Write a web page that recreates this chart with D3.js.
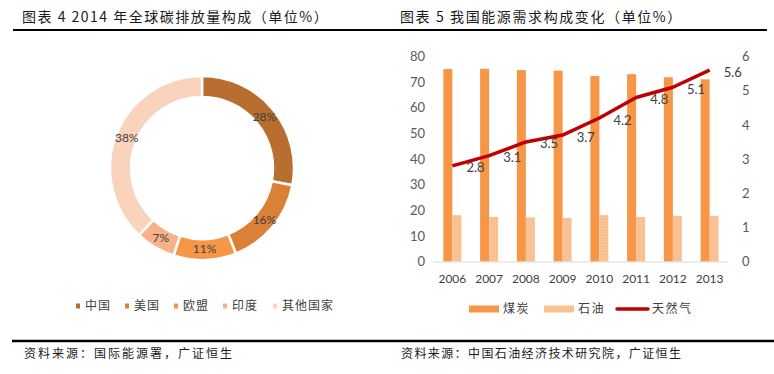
<!DOCTYPE html>
<html>
<head>
<meta charset="utf-8">
<script src="https://cdn.jsdelivr.net/npm/d3@7"></script>
<style>
  body { margin: 0; background: #fff; }
  svg { display: block; }
  .cjk { font-family: "Noto Sans CJK SC", sans-serif; }
  .num { font-family: Lato, "Liberation Sans", sans-serif; }
</style>
</head>
<body>
<svg id="chart" width="774" height="374"></svg>
<script>
// left: 2014 global carbon emission share
var regions = ['中国', '美国', '欧盟', '印度', '其他国家'];
var regionShares = [28, 16, 11, 7, 38];
var regionColors = ['#B86E2F', '#DA8137', '#F79646', '#F9B18A', '#FAD3BD'];

// right: China energy demand structure
var years = ['2006', '2007', '2008', '2009', '2010', '2011', '2012', '2013'];
var coal = [75.1, 75.2, 74.7, 74.5, 72.4, 73.1, 71.9, 71.1];
var oil = [18.1, 17.4, 17.2, 17.0, 18.1, 17.4, 17.8, 17.8];
var gas = [2.8, 3.1, 3.5, 3.7, 4.2, 4.8, 5.1, 5.6];
var leftTicks = [0, 10, 20, 30, 40, 50, 60, 70, 80];
var rightTicks = [0, 1, 2, 3, 4, 5, 6];
var energyNames = ['煤炭', '石油', '天然气'];

var svg = d3.select("#chart");

// pattern for oil bars
var defs = svg.append("defs");
var pat = defs.append("pattern").attr("id", "oilPat")
    .attr("width", 2).attr("height", 2).attr("patternUnits", "userSpaceOnUse");
pat.append("rect").attr("width", 2).attr("height", 2).attr("fill", "#FAC497");
pat.append("rect").attr("width", 1).attr("height", 1).attr("fill", "#F7B988");

// titles + rules
svg.append("text").attr("class", "cjk").attr("x", 22).attr("y", 22)
    .attr("font-size", 14).attr("letter-spacing", 1.5).attr("fill", "#1a1a1a")
    .text("图表 4 2014 年全球碳排放量构成（单位%）");
svg.append("text").attr("class", "cjk").attr("x", 400).attr("y", 22)
    .attr("font-size", 14).attr("letter-spacing", 1.6).attr("fill", "#1a1a1a")
    .text("图表 5  我国能源需求构成变化（单位%）");
svg.append("line").attr("x1", 13).attr("x2", 767).attr("y1", 30).attr("y2", 30)
    .attr("stroke", "#000").attr("stroke-width", 2);
svg.append("line").attr("x1", 12).attr("x2", 774).attr("y1", 341).attr("y2", 341)
    .attr("stroke", "#000").attr("stroke-width", 2.5);
svg.append("text").attr("class", "cjk").attr("x", 24).attr("y", 358)
    .attr("font-size", 12).attr("letter-spacing", 2).attr("fill", "#1a1a1a")
    .text("资料来源：国际能源署，广证恒生");
svg.append("text").attr("class", "cjk").attr("x", 401).attr("y", 358)
    .attr("font-size", 12).attr("letter-spacing", 1.4).attr("fill", "#1a1a1a")
    .text("资料来源：中国石油经济技术研究院，广证恒生");

// ---- donut ----
var cx = 202, cy = 168;
var pie = d3.pie().sort(null).value(function(d) { return d; });
var arc = d3.arc().innerRadius(71).outerRadius(92);
var labelArc = d3.arc().innerRadius(81).outerRadius(81);
var arcs = pie(regionShares);

var donut = svg.append("g").attr("transform", "translate(" + cx + "," + cy + ")");
donut.selectAll("path").data(arcs).enter().append("path")
    .attr("d", arc)
    .attr("fill", function(d, i) { return regionColors[i]; })
    .attr("stroke", "#fff").attr("stroke-width", 2.5);
donut.selectAll("text").data(arcs).enter().append("text")
    .attr("class", "num")
    .attr("transform", function(d) { return "translate(" + labelArc.centroid(d) + ")"; })
    .attr("text-anchor", "middle").attr("dy", "0.35em")
    .attr("font-size", 12).attr("fill", "#404040")
    .text(function(d) { return d.data + "%"; });

var lx = d3.scaleOrdinal().domain(regions).range([76, 125, 174, 223, 273]);
var leg1 = svg.append("g").selectAll("g").data(regions).enter().append("g")
    .attr("transform", function(d) { return "translate(" + lx(d) + ",306)"; });
leg1.append("rect").attr("x", 0).attr("y", -2.5).attr("width", 4).attr("height", 5)
    .attr("fill", function(d, i) { return regionColors[i]; });
leg1.append("text").attr("class", "cjk").attr("x", 9).attr("dy", "0.35em")
    .attr("font-size", 12).attr("letter-spacing", 1).attr("fill", "#404040")
    .text(function(d) { return d; });

// ---- bar + line ----
var x0 = d3.scaleBand().domain(years).range([434, 728]).paddingInner(0.51).paddingOuter(0.255);
var x1 = d3.scaleBand().domain(['coal', 'oil']).range([0, x0.bandwidth()]);
var yL = d3.scaleLinear().domain([0, 80]).range([261.5, 56.5]);
var yR = d3.scaleLinear().domain([0, 6]).range([261.5, 56.5]);

var g = svg.append("g");
var groups = g.selectAll("g.yr").data(years).enter().append("g")
    .attr("transform", function(d) { return "translate(" + x0(d) + ",0)"; });
groups.append("rect")
    .attr("x", x1('coal')).attr("width", x1.bandwidth())
    .attr("y", function(d, i) { return yL(coal[i]); })
    .attr("height", function(d, i) { return yL(0) - yL(coal[i]); })
    .attr("fill", "#F79646");
groups.append("rect")
    .attr("x", x1('oil')).attr("width", x1.bandwidth())
    .attr("y", function(d, i) { return yL(oil[i]); })
    .attr("height", function(d, i) { return yL(0) - yL(oil[i]); })
    .attr("fill", "url(#oilPat)");

// x axis
var xAxis = g.append("g").attr("transform", "translate(0," + yL(0) + ")")
    .call(d3.axisBottom(x0).tickSize(0).tickPadding(13));
xAxis.select(".domain").attr("stroke", "#D9D9D9").attr("d", "M434,0.5H728");
xAxis.selectAll("text").attr("class", "num").attr("font-size", 12).attr("fill", "#404040");

var leftAxis = g.append("g").attr("transform", "translate(425,0)")
    .call(d3.axisLeft(yL).tickValues(leftTicks).tickSize(0).tickPadding(0));
leftAxis.select(".domain").remove();
leftAxis.selectAll("text").attr("class", "num").attr("font-size", 13).attr("fill", "#595959");

var rightAxis = g.append("g").attr("transform", "translate(742,0)")
    .call(d3.axisRight(yR).tickValues(rightTicks).tickFormat(d3.format("d")).tickSize(0).tickPadding(0));
rightAxis.select(".domain").remove();
rightAxis.selectAll("text").attr("class", "num").attr("font-size", 13).attr("fill", "#595959");

// gas line
var gx = function(i) { return x0(years[i]) + x0.bandwidth() / 2; };
var line = d3.line().x(function(d, i) { return gx(i); }).y(function(d) { return yR(d); });
g.append("path").datum(gas).attr("d", line)
    .attr("fill", "none").attr("stroke", "#C00000").attr("stroke-width", 3.5)
    .attr("stroke-linejoin", "round");
g.selectAll("text.gl").data(gas).enter().append("text")
    .attr("class", "num")
    .attr("x", function(d, i) { return gx(i) + 14; })
    .attr("y", function(d) { return yR(d) + 2; })
    .attr("dy", "0.35em").attr("font-size", 13).attr("fill", "#404040")
    .text(function(d) { return d.toFixed(1); });

// legend right
var leg2 = svg.append("g").attr("transform", "translate(0,309)");
var l2x = [469, 544, 616];
leg2.append("rect").attr("x", l2x[0]).attr("y", -3.5).attr("width", 30).attr("height", 7).attr("fill", "#F79646");
leg2.append("rect").attr("x", l2x[1]).attr("y", -3.5).attr("width", 30).attr("height", 7).attr("fill", "url(#oilPat)");
leg2.append("line").attr("x1", l2x[2] + 1).attr("x2", l2x[2] + 32).attr("y1", 0).attr("y2", 0)
    .attr("stroke", "#C00000").attr("stroke-width", 3.5).attr("stroke-linecap", "round");
leg2.selectAll("text").data(energyNames).enter().append("text")
    .attr("class", "cjk")
    .attr("x", function(d, i) { return l2x[i] + (i === 2 ? 36 : 34); })
    .attr("dy", "0.35em").attr("font-size", 12).attr("letter-spacing", 1.5).attr("fill", "#404040")
    .text(function(d) { return d; });
</script>
</body>
</html>
